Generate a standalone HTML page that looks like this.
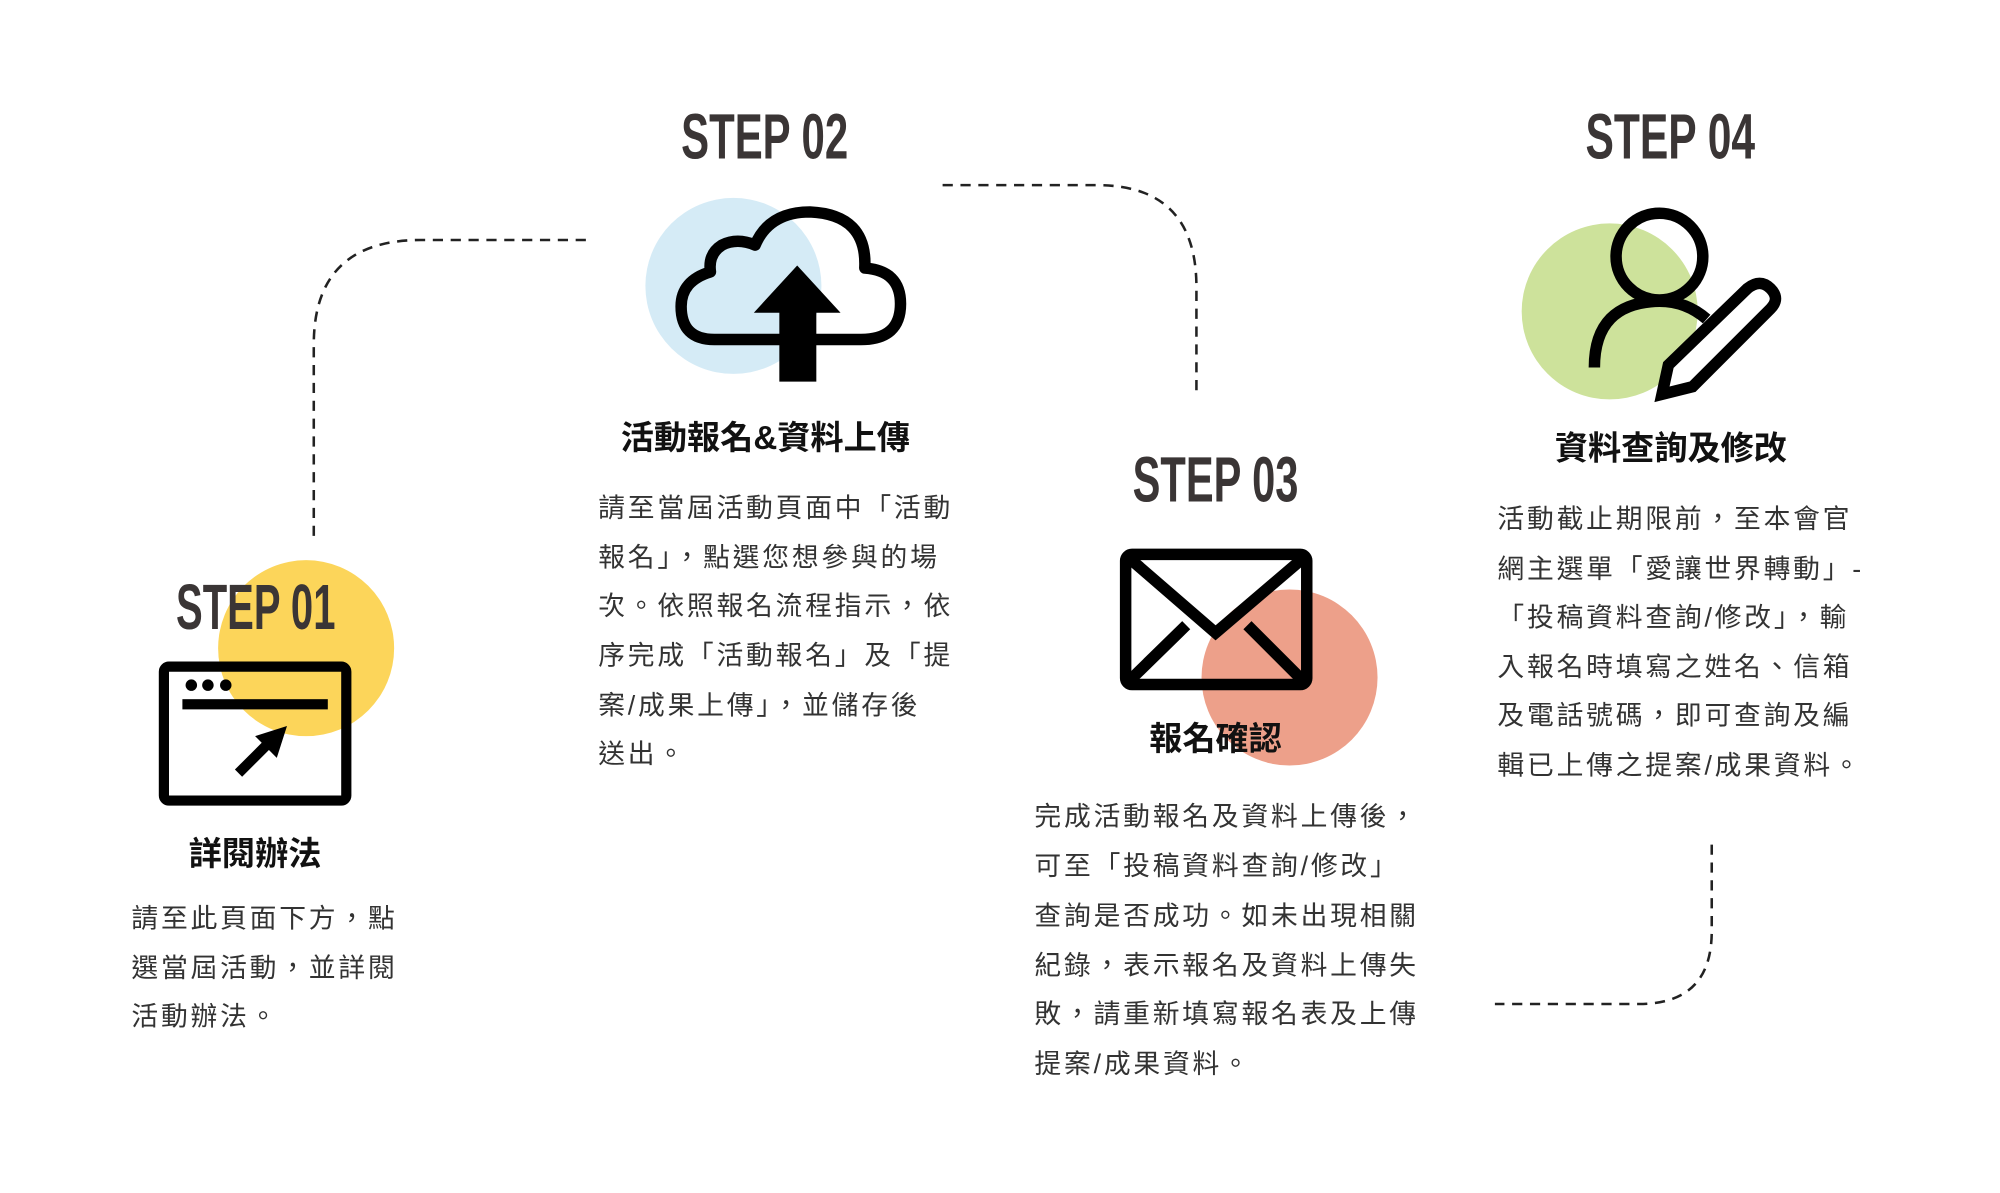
<!DOCTYPE html>
<html><head><meta charset="utf-8"><style>
html,body{margin:0;padding:0;background:#fff;}
svg{display:block;}
.st{font-family:"Liberation Sans Narrow","Liberation Sans",sans-serif;font-weight:bold;font-size:50px;fill:#3a3535;}
.h{font-family:"Liberation Sans","Noto Sans CJK TC",sans-serif;font-weight:bold;font-size:26px;fill:#111;}
.t{font-family:"Liberation Sans","Noto Sans CJK TC",sans-serif;font-size:21px;fill:#333;letter-spacing:2.2px;}
</style></head><body>
<svg width="2000" height="1193" viewBox="0 0 1568 935" xmlns="http://www.w3.org/2000/svg">
<g fill="none" stroke="#222" stroke-width="2" stroke-dasharray="8 6">
<path d="M246,420 V270 Q246,188 330,188 H463"/>
<path d="M739,145 H860 Q938,145 938,225 V308"/>
<path d="M1342,662 V730 Q1342,787 1285,787 H1172"/>
</g>
<circle cx="240" cy="508" r="69" fill="#fcd55a"/>
<circle cx="575" cy="224" r="69" fill="#d5ebf6"/>
<circle cx="1011" cy="531" r="69" fill="#eda08a"/>
<circle cx="1262" cy="244" r="69" fill="#cde29b"/>
<text class="st" x="138" y="493" textLength="125" lengthAdjust="spacingAndGlyphs">STEP 01</text>
<text class="st" x="534" y="124" textLength="131" lengthAdjust="spacingAndGlyphs">STEP 02</text>
<text class="st" x="888" y="393" textLength="130" lengthAdjust="spacingAndGlyphs">STEP 03</text>
<text class="st" x="1243" y="124" textLength="133" lengthAdjust="spacingAndGlyphs">STEP 04</text>
<rect x="128.5" y="522.5" width="143" height="105" rx="4" fill="none" stroke="#000" stroke-width="8"/>
<circle cx="150" cy="537" r="4.5"/><circle cx="163" cy="537" r="4.5"/><circle cx="177" cy="537" r="4.5"/>
<rect x="143" y="548" width="114" height="8"/>
<path d="M187,606 L212,581" stroke="#000" stroke-width="8"/>
<path d="M200,577 L225,569 L217,594 Z"/>
<path d="M596,266 H675 Q706,266 706,238 Q706,212 678,210 Q680,168 635,166 Q603,166 592,192 Q578,186 566,192 Q555,199 557,213 Q534,220 534,240 Q534,266 560,266 H596" fill="none" stroke="#000" stroke-width="9" stroke-linejoin="round"/>
<path d="M625,208 L659,245 L640,245 L640,299 L611,299 L611,245 L591,245 Z" fill="#000"/>
<rect x="882.5" y="434.5" width="142" height="102" rx="5" fill="none" stroke="#000" stroke-width="9"/>
<path d="M886,438 L953,496 L1021,438" fill="none" stroke="#000" stroke-width="9"/>
<path d="M886,533 L930,490 M1021,533 L978,490" stroke="#000" stroke-width="9"/>
<circle cx="1301" cy="201" r="34" fill="none" stroke="#000" stroke-width="9"/>
<path d="M1250,288 Q1250,237 1301,236 Q1322,236 1338,250" fill="none" stroke="#000" stroke-width="9"/>
<path d="M1370,226 Q1380,218 1388,226 Q1396,234 1388,242 L1327,303 L1303,309 L1308,286 Z" fill="#fff" stroke="#000" stroke-width="9"/>
<text class="h" x="200" y="678" text-anchor="middle">詳閱辦法</text>
<text class="h" x="600" y="352" text-anchor="middle">活動報名&amp;資料上傳</text>
<text class="h" x="953" y="588" text-anchor="middle">報名確認</text>
<text class="h" x="1310" y="360" text-anchor="middle">資料查詢及修改</text>
<text class="t" x="103" y="727">請至此頁面下方，點</text>
<text class="t" x="103" y="766">選當屆活動，並詳閱</text>
<text class="t" x="103" y="804">活動辦法。</text>
<text class="t" x="469" y="405">請至當屆活動頁面中「活動</text>
<text class="t" x="469" y="444">報名」，點選您想參與的場</text>
<text class="t" x="469" y="482">次。依照報名流程指示，依</text>
<text class="t" x="469" y="521">序完成「活動報名」及「提</text>
<text class="t" x="469" y="560">案/成果上傳」，並儲存後</text>
<text class="t" x="469" y="598">送出。</text>
<text class="t" x="811" y="647">完成活動報名及資料上傳後，</text>
<text class="t" x="811" y="686">可至「投稿資料查詢/修改」</text>
<text class="t" x="811" y="725">查詢是否成功。如未出現相關</text>
<text class="t" x="811" y="764">紀錄，表示報名及資料上傳失</text>
<text class="t" x="811" y="802">敗，請重新填寫報名表及上傳</text>
<text class="t" x="811" y="841">提案/成果資料。</text>
<text class="t" x="1174" y="414">活動截止期限前，至本會官</text>
<text class="t" x="1174" y="453">網主選單「愛讓世界轉動」-</text>
<text class="t" x="1174" y="491">「投稿資料查詢/修改」，輸</text>
<text class="t" x="1174" y="530">入報名時填寫之姓名、信箱</text>
<text class="t" x="1174" y="568">及電話號碼，即可查詢及編</text>
<text class="t" x="1174" y="607">輯已上傳之提案/成果資料。</text>
</svg>
</body></html>
